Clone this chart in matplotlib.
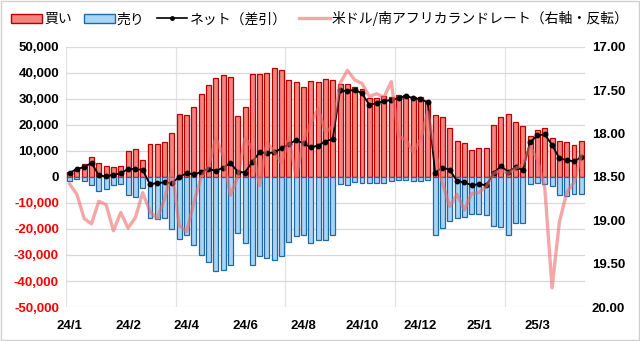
import numpy as np
import matplotlib.pyplot as plt
from matplotlib.patches import Patch, Rectangle
from matplotlib.lines import Line2D
from matplotlib.ticker import FuncFormatter

plt.rcParams['font.family'] = ['Noto Sans CJK JP', 'DejaVu Sans']

# weekly data, 71 weeks from 24/1
buy = [1800, 2700, 4900, 7600, 5300, 4100, 3700, 4100, 9900, 10600,
       6500, 12800, 12800, 13300, 16800, 24200, 23700, 26900, 31900, 35500,
       38100, 39200, 38300, 23300, 26900, 39700, 39700, 40000, 41800, 41200,
       37200, 36500, 34500, 36800, 36400, 37600, 37200, 35800, 35800, 34500,
       34000, 30300, 30300, 31300, 30900, 31400, 31400, 30900, 30900, 29100,
       23700, 23000, 19000, 13700, 12900, 10300, 11000, 11000, 19900, 22900,
       24100, 21000, 19600, 15600, 18100, 18700, 14900, 13800, 13300, 12300,
       13800]
sell = [-1400, -900, -1700, -2900, -5200, -4800, -3200, -2800, -7100, -7700,
        -4400, -15900, -16100, -15600, -20000, -23900, -22300, -26300, -30100, -32700,
        -36200, -35800, -34000, -21700, -25500, -34000, -30400, -31300, -32100, -30400,
        -25000, -22700, -22400, -25500, -24400, -24400, -22300, -2800, -3200, -1900,
        -2400, -2400, -2400, -2400, -1400, -1200, -1200, -1500, -1500, -1200,
        -22400, -19700, -16900, -15900, -15400, -14300, -14300, -14600, -19000, -19400,
        -22300, -17800, -17800, -2800, -2500, -2800, -3300, -7100, -7400, -6400,
        -6700]
net = [1500, 3200, 3700, 5500, 600, 250, 900, 1400, 3100, 3100,
       2700, -2800, -2300, -2100, -2400, 100, 1400, 1000, 1900, 3200,
       2300, 3600, 5300, 2100, 1700, 5900, 9500, 9100, 9500, 11000,
       12600, 14200, 12900, 11400, 12100, 13600, 14700, 33300, 33100, 33500,
       32200, 27700, 28400, 29200, 29600, 30300, 31200, 30300, 30000, 28700,
       1700, 3600, 2800, -1600, -2000, -3200, -2700, -3200, 1400, 4200,
       2000, 3700, 2700, 13400, 16000, 16400, 12300, 7200, 6500, 6000,
       7600]
zar = [18.58, 18.70, 18.98, 19.04, 18.78, 18.82, 19.12, 18.91, 19.09, 18.97,
       18.68, 18.90, 18.98, 18.75, 18.42, 19.06, 19.13, 18.80, 18.50, 18.38,
       18.05, 18.25, 18.71, 18.50, 18.05, 18.17, 18.60, 18.10, 18.21, 18.34,
       18.05, 18.50, 18.07, 17.88, 17.71, 17.98, 17.92, 17.42, 17.27, 17.38,
       17.42, 17.57, 17.54, 17.58, 17.40, 18.03, 18.07, 18.21, 18.07, 17.75,
       18.20, 18.57, 18.84, 18.70, 18.88, 18.69, 18.68, 18.61, 18.46, 18.42,
       18.46, 18.40, 18.36, 18.15, 18.30, 18.62, 19.78, 19.02, 18.68, 18.56,
       18.25]
tick_pos = [0, 8, 16, 24, 32, 40, 48, 56, 64]
tick_labels = ['24/1', '24/2', '24/4', '24/6', '24/8', '24/10', '24/12', '25/1', '25/3']

x = np.arange(len(buy))
tick_font = ['Liberation Sans', 'DejaVu Sans']

fig = plt.figure(figsize=(6.4, 3.41), dpi=100)
ax = fig.add_axes([0.103, 0.0997, 0.811, 0.7625])

ax.bar(x, buy, width=0.68, color='#f2857d', edgecolor='#b80000', linewidth=0.9, zorder=2)
ax.bar(x, sell, width=0.68, color='#aad4f4', edgecolor='#1f6aa5', linewidth=0.9, zorder=2)
ax.plot(x, net, color='black', lw=1.3, marker='o', ms=3.2, zorder=4)

ax.set_xlim(-0.5, len(buy) - 0.5)
ax.set_ylim(-50000, 50000)
yt = np.arange(-50000, 50001, 10000)
ax.set_yticks(yt)
ax.yaxis.set_major_formatter(FuncFormatter(lambda v, p: f'{int(v):,}'))
ax.set_xticks(tick_pos)
ax.set_xticklabels(tick_labels)
ax.tick_params(length=0, labelsize=9.5)
ax.tick_params(axis='x', pad=9)
ax.tick_params(axis='y', pad=5)
for lab, v in zip(ax.get_yticklabels(), yt):
    lab.set_color('red' if v < 0 else 'black')
for lab in ax.get_xticklabels() + ax.get_yticklabels():
    lab.set_fontweight('bold')
    lab.set_family(tick_font)

# horizontal grid plus vertical lines every 15 weeks
ax.grid(axis='y', color='#d9d9d9', lw=0.9, zorder=0)
for gx in np.arange(-0.5, len(buy), 15):
    ax.axvline(gx, color='#e3e3e3', lw=0.9, zorder=0)
for s in ax.spines.values():
    s.set_visible(False)

ax2 = ax.twinx()
ax2.plot(x, zar, color='#ef6d6d', lw=2.4, alpha=0.6, solid_joinstyle='round', zorder=3)
ax2.set_ylim(20.0, 17.0)
ax2.set_yticks(np.arange(17.0, 20.01, 0.5))
ax2.yaxis.set_major_formatter(FuncFormatter(lambda v, p: f'{v:.2f}'))
ax2.tick_params(length=0, labelsize=9.5, pad=5)
for lab in ax2.get_yticklabels():
    lab.set_fontweight('bold')
    lab.set_family(tick_font)
for s in ax2.spines.values():
    s.set_visible(False)

handles = [
    Patch(facecolor='#f2857d', edgecolor='#b80000', label='買い'),
    Patch(facecolor='#aad4f4', edgecolor='#1f6aa5', label='売り'),
    Line2D([], [], color='black', lw=1.2, marker='o', ms=2.5, label='ネット（差引）'),
    Line2D([], [], color='#ef6d6d', lw=2.4, alpha=0.6, label='米ドル/南アフリカランドレート（右軸・反転）'),
]
fig.legend(handles=handles, loc='center', bbox_to_anchor=(0.5, 0.945), ncol=4,
           frameon=False, fontsize=10, handlelength=2.2, handletextpad=0.15,
           columnspacing=0.9)

fig.patches.append(Rectangle((0.002, 0.003), 0.996, 0.994, transform=fig.transFigure,
                             fill=False, edgecolor='#d0d0d0', lw=1))

fig.savefig('out.png', dpi=100)
